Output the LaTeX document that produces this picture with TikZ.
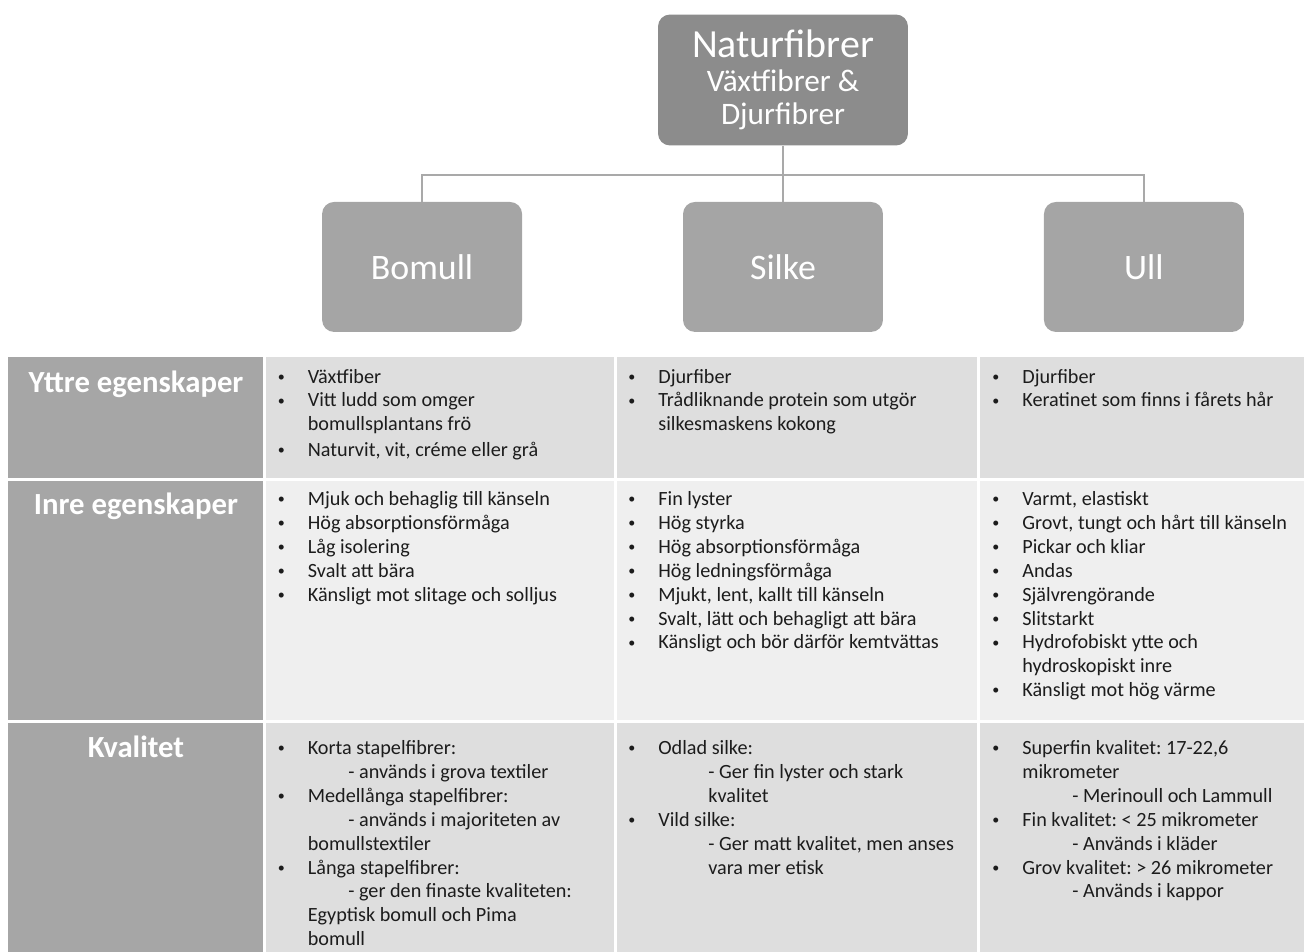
\documentclass[tikz,border=0pt]{standalone}
\usepackage{fontspec}
\setmainfont{Carlito}
\usetikzlibrary{positioning,trees}
\definecolor{topgray}{HTML}{8C8C8C}
\definecolor{boxgray}{HTML}{A5A5A5}
\definecolor{hdrgray}{HTML}{A6A6A6}
\definecolor{celldark}{HTML}{DEDEDE}
\definecolor{celllight}{HTML}{EFEFEF}
\definecolor{linegray}{HTML}{A9A9A9}
\definecolor{textgray}{HTML}{1C1C1C}
\newcommand\pkt{\strut\llap{\raisebox{1.1pt}{\fontsize{8}{8}\selectfont\textbullet}\hspace{0.46cm}}}
\newcommand\ind[1]{\hspace*{#1}}
\frenchspacing

\begin{document}
\begin{tikzpicture}
            [x=0.02cm, y=-0.02cm,
            topbox/.style={fill=topgray, rounded corners=0.24cm, minimum width=5cm,
            minimum height=2.62cm, inner sep=0pt, text=white, align=center,
            font=\fontsize{17.8}{18.7}\selectfont},
            fiberbox/.style={fill=boxgray, rounded corners=0.24cm, minimum width=4cm,
            minimum height=2.6cm, inner sep=0pt, text=white,
            font=\fontsize{20.4}{24}\selectfont},
            rowhead/.style={anchor=base, inner sep=0pt, text=white,
            font=\bfseries\fontsize{17.5}{21}\selectfont},
            celltext/.style={anchor=north west, align=left, inner sep=0pt, text=textgray,
            font=\fontsize{11.5}{13.6}\selectfont},
            every child node/.style={fiberbox},
            edge from parent/.style={draw=linegray, line width=1.1pt},
            edge from parent path={(\tikzparentnode.south) -- ++(0cm,-0.58cm)
            -| (\tikzchildnode.north)},
            level distance=3.74cm, level 1/.style={sibling distance=7.22cm}]
            \useasboundingbox (0,0) rectangle (1306,952);
            % tree
            \node[topbox] (natur) at (783,80)
                {{\fontsize{22.7}{27}\selectfont Naturfibrer}\\[0.5pt] Växtfibrer \&\\ Djurfibrer}
                child {node (bomull) {Bomull}}
                child {node (silke) {Silke}}
                child {node (ull) {Ull}};
            % table
            \foreach \ya/\yb/\cellcol in {357/478/celldark, 481/720/celllight, 723/952/celldark}{
                \fill[hdrgray] (8,\ya) rectangle (263,\yb);
                \fill[\cellcol] (266,\ya) rectangle (614,\yb);
                \fill[\cellcol] (617,\ya) rectangle (977,\yb);
                \fill[\cellcol] (980,\ya) rectangle (1304,\yb);
            }
            \node[rowhead] (yttre) at (136,393) {Yttre egenskaper};
            \node[rowhead] (inre) at (136,515) {Inre egenskaper};
            \node[rowhead] (kval) at (136,758) {Kvalitet};
            % yttre egenskaper
            \node[celltext] (bomyttre) at (307.5,366)
                {\pkt Växtfiber\\ \pkt Vitt ludd som omger\\ bomullsplantans frö\\[1pt]
                \pkt Naturvit, vit, créme eller grå};
            \node[celltext] (silyttre) at (658,366)
                {\pkt Djurfiber\\ \pkt Trådliknande protein som utgör\\ silkesmaskens kokong};
            \node[celltext] (ullyttre) at (1022,366)
                {\pkt Djurfiber\\ \pkt Keratinet som finns i fårets hår};
            % inre egenskaper
            \node[celltext] (bominre) at (307.5,488.5)
                {\pkt Mjuk och behaglig till känseln\\ \pkt Hög absorptionsförmåga\\
                \pkt Låg isolering\\ \pkt Svalt att bära\\ \pkt Känsligt mot slitage och solljus};
            \node[celltext] (silinre) at (658,488.5)
                {\pkt Fin lyster\\ \pkt Hög styrka\\ \pkt Hög absorptionsförmåga\\
                \pkt Hög ledningsförmåga\\ \pkt Mjukt, lent, kallt till känseln\\
                \pkt Svalt, lätt och behagligt att bära\\ \pkt Känsligt och bör därför kemtvättas};
            \node[celltext] (ullinre) at (1022,488.5)
                {\pkt Varmt, elastiskt\\ \pkt Grovt, tungt och hårt till känseln\\
                \pkt Pickar och kliar\\ \pkt Andas\\ \pkt Självrengörande\\ \pkt Slitstarkt\\
                \pkt Hydrofobiskt ytte och\\ hydroskopiskt inre\\ \pkt Känsligt mot hög värme};
            % kvalitet
            \node[celltext] (bomkval) at (307.5,737.5)
                {\pkt Korta stapelfibrer:\\ \ind{0.81cm}- används i grova textiler\\
                \pkt Medellånga stapelfibrer:\\ \ind{0.81cm}- används i majoriteten av\\
                bomullstextiler\\ \pkt Långa stapelfibrer:\\
                \ind{0.81cm}- ger den finaste kvaliteten:\\ Egyptisk bomull och Pima\\ bomull};
            \node[celltext] (silkval) at (658,737.5)
                {\pkt Odlad silke:\\ \ind{1cm}- Ger fin lyster och stark\\ \ind{1cm}kvalitet\\
                \pkt Vild silke:\\ \ind{1cm}- Ger matt kvalitet, men anses\\ \ind{1cm}vara mer etisk};
            \node[celltext] (ullkval) at (1022,737.5)
                {\pkt Superfin kvalitet: 17-22,6\\ mikrometer\\ \ind{1cm}- Merinoull och Lammull\\
                \pkt Fin kvalitet: < 25 mikrometer\\ \ind{1cm}- Används i kläder\\
                \pkt Grov kvalitet: > 26 mikrometer\\ \ind{1cm}- Används i kappor};
\end{tikzpicture}
\end{document}
